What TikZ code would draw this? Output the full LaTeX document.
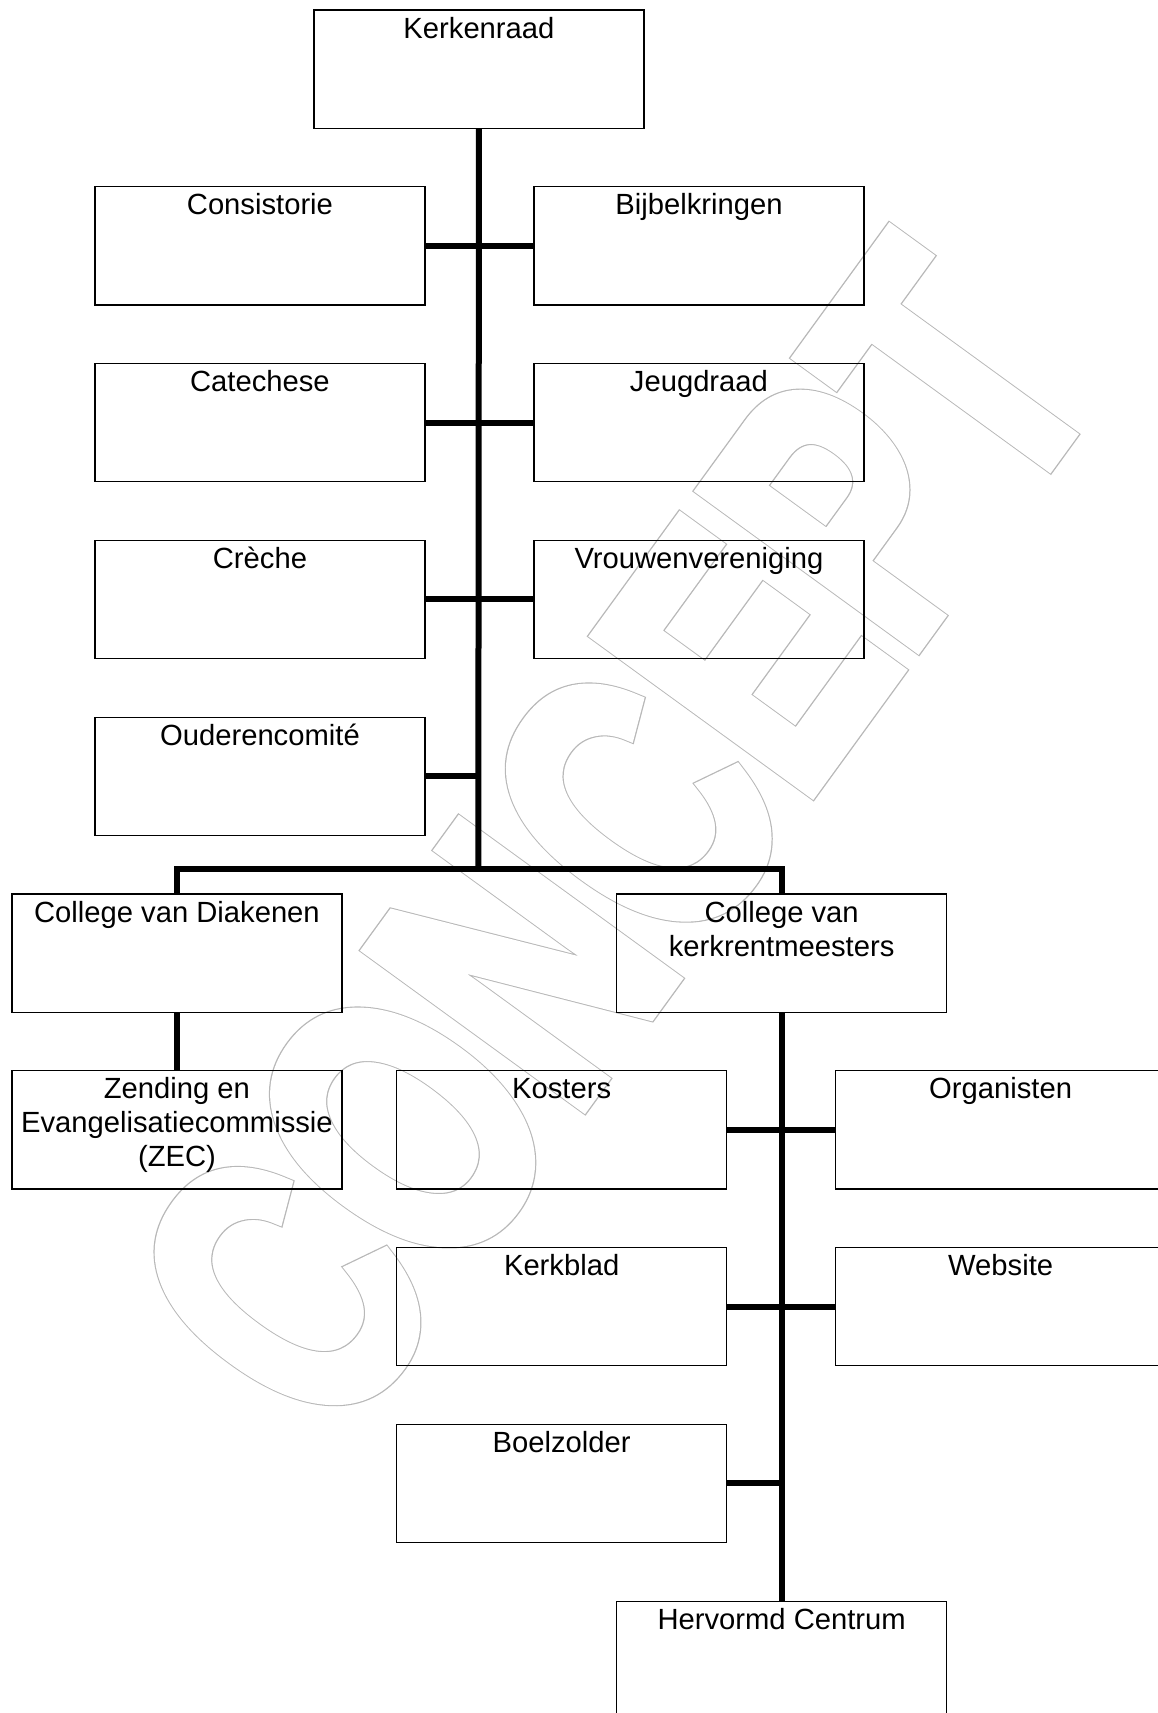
\documentclass[tikz,border=0pt]{standalone}
\usepackage{fontspec}
\setmainfont{Liberation Sans}
\newfontfamily\wmfont[Kerning=Off]{Liberation Sans}
\newcommand{\boxtext}[1]{\parbox[c][118pt][t]{326pt}{\centering\rule{0pt}{28pt}#1}}
% outlined, slightly emboldened text: a grey stroke band, its inner part covered in white
\newcommand{\outlinetext}[1]{%
  \rlap{\color[gray]{0.72}\special{pdf:literal direct 1 Tr 4.4 w}#1}%
  {\color{white}\special{pdf:literal direct 2 Tr 3.7 w}#1}%
  \special{pdf:literal direct 0 Tr}}
\begin{document}
\begin{tikzpicture}[x=1pt,y=-1pt,
  every node/.style={font=\fontsize{29.2}{34}\selectfont},
  orgbox/.style={draw=black, line width=1.3pt, minimum width=330pt, minimum height=118.2pt,
                 inner sep=0pt, anchor=north west},
  conn/.style={draw=black, line width=6pt},
  wmark/.style={anchor=base west, inner sep=0pt, outer sep=0pt, transform shape}]
\fill[white] (0,0) rectangle (1158,1713);
\useasboundingbox (0,0) rectangle (1158,1713);
% watermark
\begin{scope}[cm={1.581,2.176,-3.103,2.255,(334.4pt,-1446.9pt)}]
  \node[wmark] (wm) at (0,0) {\outlinetext{\wmfont\bfseries\fontsize{100}{120}\selectfont CONCEPT}};
\end{scope}
% boxes
\node[orgbox] (kr)    at (313.3,9.3)    {\boxtext{Kerkenraad}};
\node[orgbox] (cons)  at (94.3,186.1)   {\boxtext{Consistorie}};
\node[orgbox] (bijb)  at (533.3,186.1)  {\boxtext{Bijbelkringen}};
\node[orgbox] (cat)   at (94.3,362.9)   {\boxtext{Catechese}};
\node[orgbox] (jeugd) at (533.3,362.9)  {\boxtext{Jeugdraad}};
\node[orgbox] (crech) at (94.3,539.7)   {\boxtext{Crèche}};
\node[orgbox] (vrouw) at (533.3,539.7)  {\boxtext{Vrouwenvereniging}};
\node[orgbox] (oud)   at (94.3,716.5)   {\boxtext{Ouderencomité}};
\node[orgbox] (cvd)   at (11.3,893.3)   {\boxtext{College van Diakenen}};
\node[orgbox] (ckk)   at (616,893.3)    {\boxtext{College van\\kerkrentmeesters}};
\node[orgbox] (zec)   at (11.3,1070.1)  {\boxtext{Zending en\\Evangelisatiecommissie\\(ZEC)}};
\node[orgbox] (kost)  at (396,1070.1)   {\boxtext{Kosters}};
\node[orgbox] (org)   at (835,1070.1)   {\boxtext{Organisten}};
\node[orgbox] (kbl)   at (396,1246.9)   {\boxtext{Kerkblad}};
\node[orgbox] (web)   at (835,1246.9)   {\boxtext{Website}};
\node[orgbox] (boel)  at (396,1423.7)   {\boxtext{Boelzolder}};
\node[orgbox] (hc)    at (616,1600.5)   {\boxtext{Hervormd Centrum}};
% connectors
\coordinate (bus) at (478.3,869);
\draw[conn] (kr.south) -- (bus);
\draw[conn] (cvd.north) |- (bus) -| (ckk.north);
\draw[conn] (cons.east) -- (bijb.west);
\draw[conn] (cat.east) -- (jeugd.west);
\draw[conn] (crech.east) -- (vrouw.west);
\draw[conn] (oud.east) -- (oud.east -| kr.south);
\draw[conn] (cvd.south) -- (zec.north);
\draw[conn] (ckk.south) -- (hc.north);
\draw[conn] (kost.east) -- (org.west);
\draw[conn] (kbl.east) -- (web.west);
\draw[conn] (boel.east) -- (boel.east -| ckk.south);
\end{tikzpicture}
\end{document}
